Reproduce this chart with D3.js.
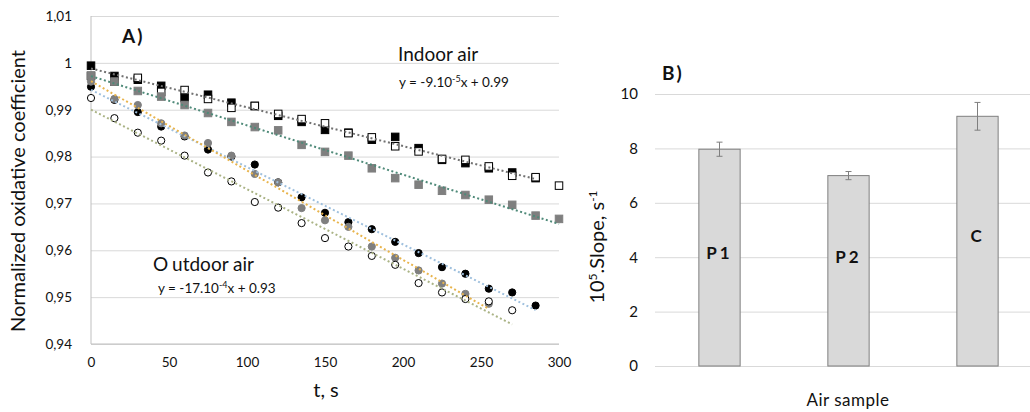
<!DOCTYPE html>
<html><head><meta charset="utf-8">
<script src="https://cdn.jsdelivr.net/npm/d3@7"></script>
<style>
body{margin:0;background:#fff}
svg{display:block}
text{font-family:Lato,"Liberation Sans",sans-serif;fill:#111}
</style>
</head><body>
<svg id="c" width="1030" height="412"></svg>
<script>
// ---------- Panel A data ----------
const times = [0,15,30,45,60,75,90,105,120,135,150,165,180,195,210,225,240,255,270,285,300];
const indoorBlackSq = [0.9994,0.9972,0.9964,0.9951,0.9925,0.9932,0.9915,0.9908,0.9887,0.9874,0.9857,0.9851,0.9836,0.9842,0.9818,0.9793,0.9786,0.9775,0.9766,0.9754];
const indoorOpenSq  = [0.9972,0.9960,0.9968,0.9938,0.9942,0.9923,0.9904,0.9908,0.9891,0.9880,0.9871,0.9850,0.9841,0.9822,0.9811,0.9795,0.9793,0.9779,0.9759,0.9756,0.9738];
const indoorGraySq  = [0.9973,0.9960,0.9940,0.9928,0.9910,0.9893,0.9874,0.9863,0.9856,0.9825,0.9810,0.9802,0.9775,0.9754,0.9740,0.9727,0.9718,0.9708,0.9697,0.9674,0.9667];
const outdoorBlackCirc = [0.9949,0.9921,0.9895,0.9864,0.9843,0.9815,0.9800,0.9783,0.9745,0.9713,0.9680,0.9660,0.9645,0.9618,0.9594,0.9564,0.9550,0.9518,0.9510,0.9482];
const outdoorGrayCirc  = [0.9960,0.9923,0.9910,0.9871,0.9845,0.9829,0.9802,0.9763,0.9745,0.9690,0.9664,0.9650,0.9608,0.9584,0.9557,0.9529,0.9507,0.9486];
const outdoorOpenCirc  = [0.9925,0.9882,0.9851,0.9834,0.9802,0.9766,0.9747,0.9703,0.9691,0.9658,0.9626,0.9608,0.9588,0.9569,0.9530,0.9510,0.9496,0.9491,0.9472];
const xTicksA = [0,50,100,150,200,250,300];
const yTicksA = [0.94,0.95,0.96,0.97,0.98,0.99,1.00,1.01];
const yLabelsA = ["0,94","0,95","0,96","0,97","0,98","0,99","1","1,01"];

// ---------- Panel B data ----------
const samples = ["P1","P2","C"];
const slopes = [7.97,7.0,9.18];
const slopeErr = [0.26,0.15,0.51];
const yTicksB = [0,2,4,6,8,10];

const svg = d3.select("#c");

// ================= Panel A =================
const x = d3.scaleLinear().domain([0,300]).range([91,559]);
const y = d3.scaleLinear().domain([0.94,1.01]).range([344,16]);

const gA = svg.append("g");
gA.append("g").attr("transform","translate(91,0)")
  .call(d3.axisLeft(y).tickValues(yTicksA).tickSize(-468).tickFormat(""))
  .call(g=>g.select(".domain").remove())
  .call(g=>g.selectAll("line").attr("stroke","#d9d9d9").attr("stroke-width",1));
gA.append("line").attr("x1",91).attr("x2",91).attr("y1",y(1.01)).attr("y2",y(0.94)).attr("stroke","#bfbfbf");
gA.append("line").attr("x1",91).attr("x2",559).attr("y1",y(0.94)).attr("y2",y(0.94)).attr("stroke","#bfbfbf");
gA.append("g").attr("transform","translate(91,0)")
  .call(d3.axisLeft(y).tickValues(yTicksA).tickSize(0).tickPadding(19).tickFormat((d,i)=>yLabelsA[i]))
  .call(g=>g.select(".domain").remove())
  .call(g=>g.selectAll("text").attr("font-size",13.5).attr("font-family","Lato").attr("fill","#111"));
gA.append("g").attr("transform","translate(0,344)")
  .call(d3.axisBottom(x).tickValues(xTicksA).tickSize(0).tickPadding(13).tickFormat(d3.format("d")))
  .call(g=>g.select(".domain").remove())
  .call(g=>g.selectAll("text").attr("font-size",13.5).attr("font-family","Lato").attr("fill","#111"));

function pts(vals){ return vals.map((v,i)=>({t:times[i],v:v})); }
function fit(p){
  const n=p.length, mx=d3.mean(p,d=>d.t), my=d3.mean(p,d=>d.v);
  const b=d3.sum(p,d=>(d.t-mx)*(d.v-my))/d3.sum(p,d=>(d.t-mx)*(d.t-mx));
  const a=my-b*mx; const t0=p[0].t, t1=p[n-1].t;
  return [{t:t0,v:a+b*t0},{t:t1,v:a+b*t1}];
}
const line = d3.line().x(d=>x(d.t)).y(d=>y(d.v));

const series = [
  {vals:indoorBlackSq, shape:"sq", fill:"#000", stroke:"#000", trend:"#727272"},
  {vals:indoorOpenSq,  shape:"sq", fill:"#fff", stroke:"#000", trend:null},
  {vals:indoorGraySq,  shape:"sq", fill:"#7f7f7f", stroke:"#7f7f7f", trend:"#4f8a79"},
  {vals:outdoorBlackCirc, shape:"ci", fill:"#000", stroke:"#000", trend:"#9fc0de"},
  {vals:outdoorGrayCirc,  shape:"ci", fill:"#7f7f7f", stroke:"#7f7f7f", trend:"#e8b44c"},
  {vals:outdoorOpenCirc,  shape:"ci", fill:"#fff", stroke:"#000", trend:"#aab385"}
];
series.forEach(s=>{
  const p = pts(s.vals);
  if(s.shape==="sq"){
    gA.append("g").selectAll("rect").data(p).join("rect")
      .attr("x",d=>x(d.t)-3.75).attr("y",d=>y(d.v)-3.75).attr("width",7.5).attr("height",7.5)
      .attr("fill",s.fill).attr("stroke",s.stroke).attr("stroke-width",1);
  } else {
    gA.append("g").selectAll("circle").data(p).join("circle")
      .attr("cx",d=>x(d.t)).attr("cy",d=>y(d.v)).attr("r",3.6)
      .attr("fill",s.fill).attr("stroke",s.stroke).attr("stroke-width",1);
  }
});
series.forEach(s=>{
  if(!s.trend) return;
  gA.append("path").attr("d",line(fit(pts(s.vals)))).attr("fill","none")
    .attr("stroke",s.trend).attr("stroke-width",2).attr("stroke-dasharray","2,2.5");
});

gA.append("text").attr("x",122).attr("y",43).attr("font-size",19).attr("font-weight",700).attr("letter-spacing",2).text("A)");
gA.append("text").attr("x",398).attr("y",61).attr("font-size",19).text("Indoor air");
const e1 = gA.append("text").attr("x",399).attr("y",87).attr("font-size",13.5);
e1.append("tspan").text("y = -9.10");
e1.append("tspan").attr("font-size",9).attr("dy",-5).text("-5");
e1.append("tspan").attr("dy",5).text("x + 0.99");
const o1 = gA.append("text").attr("x",153).attr("y",271).attr("font-size",19);
o1.append("tspan").text("O");
o1.append("tspan").attr("dx",4).text("utdoor air");
const e2 = gA.append("text").attr("x",158).attr("y",293).attr("font-size",13.5);
e2.append("tspan").text("y = -17.10");
e2.append("tspan").attr("font-size",9).attr("dy",-5).text("-4");
e2.append("tspan").attr("dy",5).text("x + 0.93");
gA.append("text").attr("transform","translate(25,191) rotate(-90)").attr("text-anchor","middle")
  .attr("font-size",20).text("Normalized oxidative coefficient");
gA.append("text").attr("x",326).attr("y",397).attr("text-anchor","middle").attr("font-size",20).text("t, s");

// ================= Panel B =================
const xb = d3.scaleBand().domain(samples).range([655,1042]).paddingInner(0.68).paddingOuter(0.34);
const yb = d3.scaleLinear().domain([0,10]).range([366,94]);
const gB = svg.append("g");
gB.append("g").attr("transform","translate(655,0)")
  .call(d3.axisLeft(yb).tickValues(yTicksB).tickSize(-375).tickFormat(""))
  .call(g=>g.select(".domain").remove())
  .call(g=>g.selectAll("line").attr("stroke","#d9d9d9").attr("stroke-width",1));
gB.append("g").attr("transform","translate(655,0)")
  .call(d3.axisLeft(yb).tickValues(yTicksB).tickSize(0).tickPadding(17).tickFormat(d3.format("d")))
  .call(g=>g.select(".domain").remove())
  .call(g=>g.selectAll("text").attr("font-size",15).attr("font-family","Lato").attr("fill","#111"));
const bd = samples.map((s,i)=>({s:s,v:slopes[i],e:slopeErr[i]}));
gB.selectAll("rect.bar").data(bd).join("rect").attr("class","bar")
  .attr("x",d=>xb(d.s)).attr("y",d=>yb(d.v)).attr("width",xb.bandwidth()).attr("height",d=>yb(0)-yb(d.v))
  .attr("fill","#d9d9d9").attr("stroke","#7f7f7f").attr("stroke-width",1);
const eb = gB.selectAll("g.err").data(bd).join("g").attr("class","err")
  .attr("stroke","#7f7f7f").attr("stroke-width",1);
eb.append("line").attr("x1",d=>xb(d.s)+xb.bandwidth()/2).attr("x2",d=>xb(d.s)+xb.bandwidth()/2)
  .attr("y1",d=>yb(d.v+d.e)).attr("y2",d=>yb(d.v-d.e));
eb.append("line").attr("x1",d=>xb(d.s)+xb.bandwidth()/2-3).attr("x2",d=>xb(d.s)+xb.bandwidth()/2+3)
  .attr("y1",d=>yb(d.v+d.e)).attr("y2",d=>yb(d.v+d.e));
eb.append("line").attr("x1",d=>xb(d.s)+xb.bandwidth()/2-3).attr("x2",d=>xb(d.s)+xb.bandwidth()/2+3)
  .attr("y1",d=>yb(d.v-d.e)).attr("y2",d=>yb(d.v-d.e));
const labelDy = [-5,-14,-6];
gB.selectAll("text.bl").data(bd).join("text").attr("class","bl")
  .attr("x",d=>xb(d.s)+xb.bandwidth()/2).attr("y",(d,i)=>(yb(0)+yb(d.v))/2+labelDy[i])
  .attr("text-anchor","middle").attr("dominant-baseline","central").attr("font-size",17)
  .attr("font-weight",700).attr("letter-spacing",3).text(d=>d.s);

gB.append("text").attr("x",662).attr("y",80).attr("font-size",19).attr("font-weight",700).attr("letter-spacing",2).text("B)");
gB.append("text").attr("x",848).attr("y",406).attr("text-anchor","middle").attr("font-size",17).attr("letter-spacing",0.5).text("Air sample");
const yt = gB.append("text").attr("transform","translate(604,247) rotate(-90)").attr("text-anchor","middle").attr("font-size",20);
yt.append("tspan").text("10");
yt.append("tspan").attr("font-size",12).attr("dy",-7).text("5");
yt.append("tspan").attr("dy",7).text(".Slope, s");
yt.append("tspan").attr("font-size",12).attr("dy",-7).text("-1");
</script>
</body></html>
